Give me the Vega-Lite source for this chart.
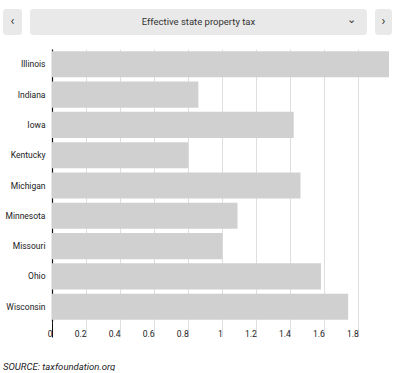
{
  "$schema": "https://vega.github.io/schema/vega-lite/v6.json",
  "padding": {"left": 3, "top": 9, "right": 3, "bottom": 0},
  "background": "white",
  "config": {
    "font": "Roboto",
    "view": {"stroke": null},
    "title": {"font": "Roboto"}
  },
  "title": {
    "text": "SOURCE: taxfoundation.org",
    "orient": "bottom",
    "anchor": "start",
    "fontStyle": "italic",
    "fontWeight": "normal",
    "fontSize": 9.5,
    "color": "#222",
    "offset": 24
  },
  "spacing": 14,
  "vconcat": [
    {
      "spacing": 8,
      "hconcat": [
        {
          "width": 19,
          "height": 26,
          "view": {"fill": "#e9e9e9", "stroke": null, "cornerRadius": 3},
          "data": {"values": [{"t": "‹"}]},
          "mark": {"type": "text", "fontSize": 13, "color": "#333", "baseline": "middle", "dy": -1},
          "encoding": {"text": {"field": "t"}}
        },
        {
          "width": 337,
          "height": 26,
          "view": {"fill": "#e9e9e9", "stroke": null, "cornerRadius": 3},
          "data": {"values": [{"t": "Effective state property tax", "c": "⌄"}]},
          "layer": [
            {
              "mark": {"type": "text", "fontSize": 9.5, "color": "#333", "baseline": "middle"},
              "encoding": {"text": {"field": "t"}}
            },
            {
              "mark": {"type": "text", "fontSize": 11, "color": "#333", "baseline": "middle", "dx": 153, "dy": -2, "font": "DejaVu Sans"},
              "encoding": {"text": {"field": "c"}}
            }
          ]
        },
        {
          "width": 17,
          "height": 26,
          "view": {"fill": "#e9e9e9", "stroke": null, "cornerRadius": 3},
          "data": {"values": [{"t": "›"}]},
          "mark": {"type": "text", "fontSize": 13, "color": "#333", "baseline": "middle", "dy": -1},
          "encoding": {"text": {"field": "t"}}
        }
      ]
    },
    {
      "spacing": 0,
      "bounds": "flush",
      "hconcat": [
        {
          "width": 49,
          "height": 273,
          "data": {"values": [{"t": ""}]},
          "mark": {"type": "text"},
          "encoding": {"text": {"field": "t"}}
        },
        {
          "width": 337,
          "height": 273,
          "data": {
            "values": [
              {"state": "Illinois", "tax": 1.98},
              {"state": "Indiana", "tax": 0.86},
              {"state": "Iowa", "tax": 1.42},
              {"state": "Kentucky", "tax": 0.80},
              {"state": "Michigan", "tax": 1.46},
              {"state": "Minnesota", "tax": 1.09},
              {"state": "Missouri", "tax": 1.00},
              {"state": "Ohio", "tax": 1.58},
              {"state": "Wisconsin", "tax": 1.74}
            ]
          },
          "mark": {"type": "bar", "color": "#d0d0d0"},
          "encoding": {
            "y": {
              "field": "state",
              "type": "nominal",
              "sort": null,
              "scale": {"paddingInner": 0.14, "paddingOuter": 0.075},
              "axis": {
                "title": null,
                "ticks": false,
                "tickSize": 0,
                "labelPadding": 7,
                "labelFontSize": 8.5,
                "labelColor": "#222",
                "domainColor": "#111",
                "domainWidth": 1.2,
                "grid": false
              }
            },
            "x": {
              "field": "tax",
              "type": "quantitative",
              "scale": {"domain": [0, 1.98], "nice": false},
              "axis": {
                "title": null,
                "values": [0, 0.2, 0.4, 0.6, 0.8, 1, 1.2, 1.4, 1.6, 1.8],
                "format": "~g",
                "domain": false,
                "grid": true,
                "gridColor": "#dedede",
                "gridWidth": 1,
                "tickSize": 15,
                "tickWidth": 1,
                "tickColor": {"condition": {"test": "datum.value === 0", "value": "#111"}, "value": "#dedede"},
                "labelAlign": "right",
                "labelBaseline": "middle",
                "labelPadding": -4,
                "labelDx": -4,
                "labelFontSize": 8.5,
                "labelColor": "#222",
                "labelFlush": false,
                "labelOverlap": false
              }
            }
          }
        }
      ]
    }
  ]
}
